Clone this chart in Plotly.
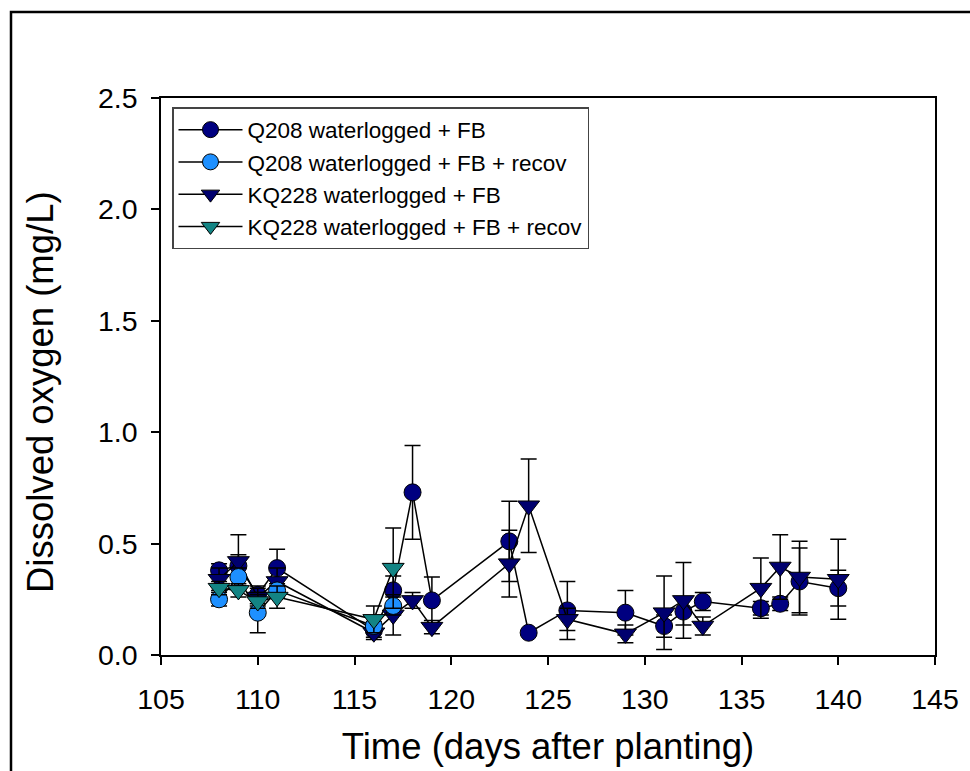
import plotly.graph_objects as go

# Sampling days (days after planting)
days_full = [108, 109, 110, 111, 116, 117, 118, 119, 123, 124, 126, 129, 131, 132, 133, 136, 137, 138, 140]
days_recov = [108, 109, 110, 111, 116, 117]

# Dissolved oxygen (mg/L), mean and error
q208_fb = [0.38, 0.40, 0.27, 0.39, 0.11, 0.29, 0.73, 0.245, 0.51, 0.10, 0.20, 0.19, 0.13, 0.195, 0.24, 0.21, 0.23, 0.33, 0.30]
q208_fb_err = [0.03, 0.05, 0.04, 0.085, 0.03, 0.065, 0.21, 0.105, 0.18, 0.01, 0.13, 0.10, 0.05, 0.06, 0.04, 0.03, 0.03, 0.15, 0.08]

kq228_fb = [0.34, 0.42, 0.26, 0.33, 0.10, 0.18, 0.245, 0.125, 0.41, 0.67, 0.16, 0.095, 0.19, 0.245, 0.13, 0.30, 0.395, 0.35, 0.34]
kq228_fb_err = [0.05, 0.12, 0.04, 0.06, 0.03, 0.09, 0.035, 0.03, 0.15, 0.21, 0.05, 0.04, 0.165, 0.17, 0.04, 0.135, 0.145, 0.16, 0.18]

q208_recov = [0.25, 0.35, 0.19, 0.29, 0.13, 0.22]
q208_recov_err = [0.03, 0.04, 0.09, 0.03, 0.02, 0.04]

kq228_recov = [0.30, 0.29, 0.24, 0.26, 0.16, 0.39]
kq228_recov_err = [0.03, 0.03, 0.03, 0.05, 0.06, 0.18]

x_ticks = [105, 110, 115, 120, 125, 130, 135, 140, 145]
y_ticks = [0.0, 0.5, 1.0, 1.5, 2.0, 2.5]

FONT = "Arial, 'Liberation Sans', sans-serif"

series = [
    ("Q208 waterlogged + FB", days_full, q208_fb, q208_fb_err, "circle", "#000080", 17),
    ("Q208 waterlogged + FB + recov", days_recov, q208_recov, q208_recov_err, "circle", "#1E90FF", 17),
    ("KQ228 waterlogged + FB", days_full, kq228_fb, kq228_fb_err, "triangle-down", "#00006E", 19),
    ("KQ228 waterlogged + FB + recov", days_recov, kq228_recov, kq228_recov_err, "triangle-down", "#138484", 19),
]
# draw order: dark circles, dark triangles, light circles, teal triangles
draw_order = [0, 2, 1, 3]

fig = go.Figure()
for i in draw_order:
    name, xs, ys, es, sym, col, sz = series[i]
    fig.add_trace(go.Scatter(
        x=xs, y=ys, name=name, mode="lines+markers",
        line=dict(color="black", width=1.5),
        marker=dict(symbol=sym, size=sz, color=col, line=dict(color="black", width=1)),
        error_y=dict(type="data", array=es, visible=True, color="black", thickness=1.5, width=8),
        legendrank=i + 1,
    ))

L, R, T, B = 161, 35, 98, 116
W, H = 970, 771
pw, ph = W - L - R, H - T - B


def px_x(p):
    return (p - L) / pw


def px_y(p):
    return (H - B - p) / ph


fig.update_layout(
    width=W, height=H,
    margin=dict(l=L, r=R, t=T, b=B),
    paper_bgcolor="white", plot_bgcolor="white",
    font=dict(family=FONT, color="black"),
    showlegend=True,
    legend=dict(
        x=px_x(172), y=px_y(107), xanchor="left", yanchor="top",
        bordercolor="#444444", borderwidth=1.5, bgcolor="white",
        font=dict(size=22.5, family=FONT), traceorder="normal",
        itemwidth=64,
    ),
    xaxis=dict(
        range=[105, 145], tickvals=x_ticks, ticks="outside", ticklen=8, tickwidth=1.5,
        tickcolor="black", showline=True, linecolor="black", linewidth=1.5, mirror=True,
        showgrid=False, zeroline=False, tickfont=dict(size=28.5, family=FONT),
        ticklabelstandoff=10,
        title=dict(text="Time (days after planting)", font=dict(size=36.5, family=FONT), standoff=19),
    ),
    yaxis=dict(
        range=[0, 2.5], tickvals=y_ticks, tickformat=".1f", ticks="outside", ticklen=8, tickwidth=1.5,
        tickcolor="black", showline=True, linecolor="black", linewidth=1.5, mirror=True,
        showgrid=False, zeroline=False, tickfont=dict(size=28.5, family=FONT),
        ticklabelstandoff=8,
    ),
)

# y-axis title
fig.add_annotation(text="Dissolved oxygen (mg/L)", xref="paper", yref="paper",
                   x=px_x(40), y=px_y(392), xanchor="center", yanchor="middle",
                   textangle=-90, showarrow=False, font=dict(size=36.5, family=FONT))

# outer frame around the figure (open to the right and bottom edges)
fig.add_shape(type="rect", xref="paper", yref="paper",
              x0=px_x(11), x1=px_x(W + 40), y0=px_y(H + 40), y1=px_y(12),
              line=dict(color="black", width=2.5), fillcolor="rgba(0,0,0,0)", layer="below")

fig.write_html("out.html")
